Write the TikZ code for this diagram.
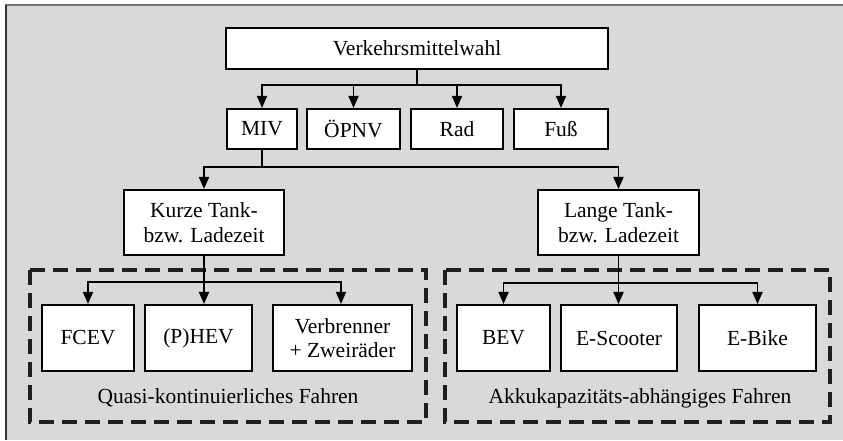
\documentclass[tikz,border=0pt]{standalone}
\usepackage{fontspec}
\setmainfont{Liberation Serif}
\usetikzlibrary{arrows.meta}

\definecolor{panel}{RGB}{216,217,219}

\tikzset{
  box/.style={draw=black, fill=white, line width=2.1pt, inner sep=0pt,
    align=center, font=\fontsize{21.5}{24.5}\selectfont},
  conn/.style={draw=black, line width=1.8pt},
  arr/.style={conn, -{Triangle[length=12pt,width=10pt]}},
  group/.style={draw=black!88, line width=3.3pt, dash pattern=on 15pt off 8pt},
  caption/.style={font=\fontsize{21.5}{24.5}\selectfont, inner sep=0pt}
}

\begin{document}
\begin{tikzpicture}[x=1pt, y=-1pt]
  \useasboundingbox (0,0) rectangle (843,440);

  % grey panel with its top and left rules
  \fill[panel] (6,5) rectangle (843,440);
  \draw[black!55, line width=1.7pt] (5,5) -- (843,5);
  \draw[black!80, line width=2pt] (6,5) -- (6,440);

  % dashed groups
  \draw[group] (30,270) rectangle (426,422);
  \draw[group] (445,270) rectangle (830,422);
  \node[caption] (qk) at (228,398) {Quasi-kontinuierliches Fahren};
  \node[caption] (ak) at (640,398) {Akkukapazitäts-abhängiges Fahren};

  % top level
  \node[box, minimum width=382pt, minimum height=41pt] (vm) at (417,48.5) {Verkehrsmittelwahl};

  \node[box, minimum width=70pt, minimum height=40pt] (miv) at (262,129) {MIV};
  \node[box, minimum width=93pt, minimum height=40pt] (opnv) at (353.5,129) {ÖPNV};
  \node[box, minimum width=92pt, minimum height=40pt] (rad) at (457,129) {Rad};
  \node[box, minimum width=94pt, minimum height=40pt] (fuss) at (561,129) {Fuß};

  % refuelling / charging time
  \node[box, minimum width=160pt, minimum height=65pt] (kurz) at (204,222.5) {Kurze Tank-\\bzw. Ladezeit};
  \node[box, minimum width=161pt, minimum height=65pt] (lang) at (618.5,222.5) {Lange Tank-\\bzw. Ladezeit};

  % vehicle types
  \node[box, minimum width=92pt, minimum height=66pt] (fcev) at (88,338) {FCEV};
  \node[box, minimum width=107pt, minimum height=66pt] (phev) at (198.5,338) {(P)HEV};
  \node[box, minimum width=139pt, minimum height=66pt] (verb) at (342.5,338) {Verbrenner\\+ Zweiräder};
  \node[box, minimum width=93pt, minimum height=66pt] (bev) at (503.5,338) {BEV};
  \node[box, minimum width=116pt, minimum height=66pt] (scoot) at (619,338) {E-Scooter};
  \node[box, minimum width=117pt, minimum height=66pt] (bike) at (757.5,338) {E-Bike};

  % connectors: mode choice
  \coordinate (b1) at (vm.south |- 0,85);
  \draw[conn] (vm.south) -- (b1);
  \draw[arr] (b1) -| (miv.north);
  \draw[arr] (b1) -| (opnv.north);
  \draw[arr] (b1) -| (rad.north);
  \draw[arr] (b1) -| (fuss.north);

  % connectors: MIV split
  \coordinate (b2) at (miv.south |- 0,167);
  \draw[conn] (miv.south) -- (b2);
  \draw[arr] (b2) -| (kurz.north);
  \draw[arr] (b2) -| (lang.north);

  % connectors: short refuelling
  \coordinate (b3) at (kurz.south |- 0,282);
  \draw[conn] (kurz.south) -- (b3);
  \draw[arr] (b3) -| (fcev.north);
  \draw[arr] (b3) -- (b3 |- phev.north);
  \draw[arr] (b3) -| ([xshift=-1.5pt]verb.north);

  % connectors: long charging
  \coordinate (b4) at (lang.south |- 0,283);
  \draw[conn] (lang.south) -- (b4);
  \draw[arr] (b4) -| (bev.north);
  \draw[arr] (b4) -- (b4 |- scoot.north);
  \draw[arr] (b4) -| (bike.north);
\end{tikzpicture}
\end{document}
